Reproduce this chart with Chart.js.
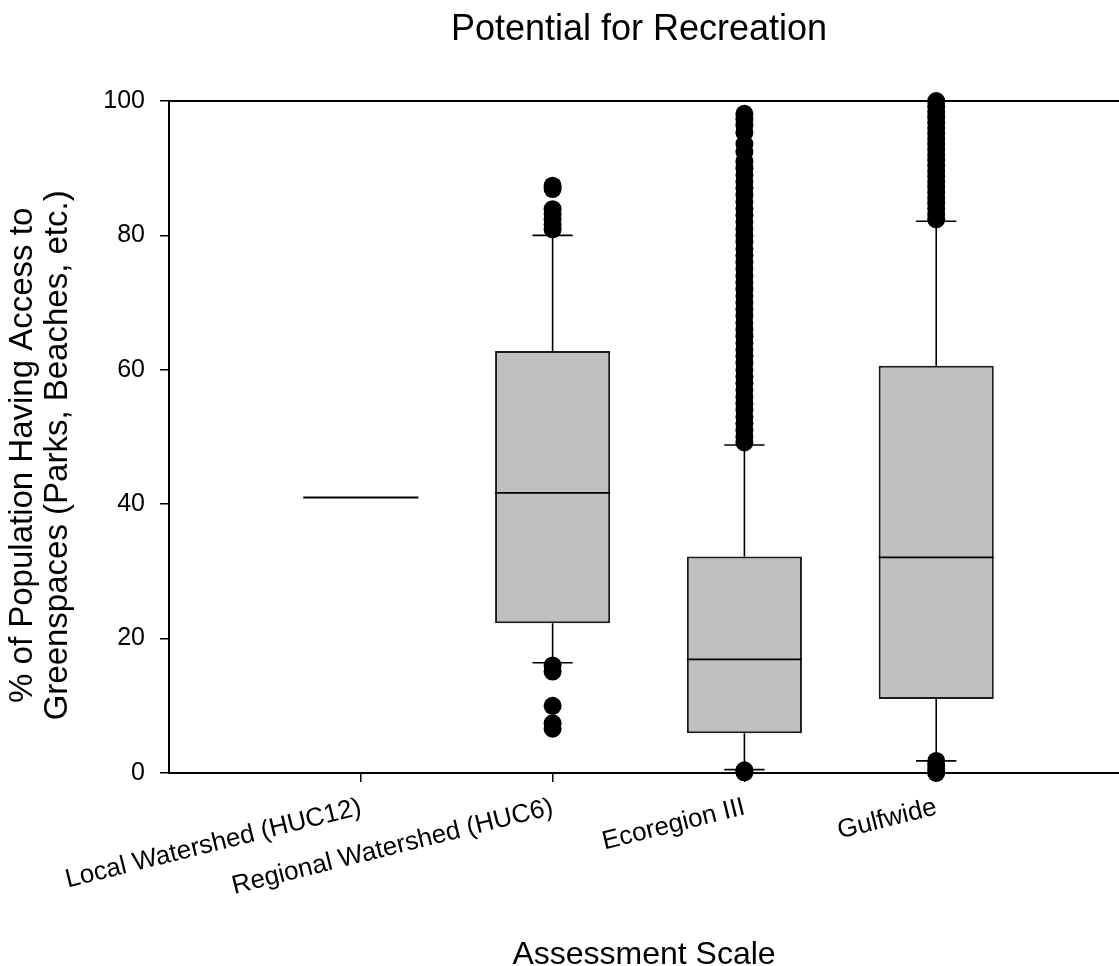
<!DOCTYPE html>
<html>
<head>
<meta charset="utf-8">
<style>
  html, body { margin: 0; padding: 0; background: #fff; overflow: hidden; }
  #wrap { width: 1119px; height: 966px; }
  canvas { display: block; }
</style>
<script src="https://cdn.jsdelivr.net/npm/chart.js@4.4.1/dist/chart.umd.min.js"></script>
</head>
<body>
<div id="wrap"><canvas id="c" width="1119" height="966"></canvas></div>
<script>
// ---- data ----
const categories = ['Local Watershed (HUC12)', 'Regional Watershed (HUC6)', 'Ecoregion III', 'Gulfwide'];
const q1Values      = [41.0, 22.3, 5.9, 11.0];
const medianValues  = [41.0, 41.7, 16.9, 32.1];
const q3Values      = [41.0, 62.8, 32.2, 60.6];
const whiskerLow    = [null, 16.4, 0.5, 1.8];
const whiskerHigh   = [null, 80.0, 48.8, 82.1];
const outliersLocal = [];
const outliersRegional = [87.4, 86.9, 83.9, 83.2, 82.4, 81.6, 80.9, 16.0, 15.1, 10.0, 7.4, 6.6];
const outliersEcoregion = [98.1, 97.3, 96.4, 95.3, 93.6, 92.4, 91.0, 90.0, 89.0, 88.0, 87.0, 86.0, 85.0,
  84.0, 83.0, 82.0, 81.0, 80.0, 79.0, 78.0, 77.0, 76.0, 75.0, 74.0, 73.0, 72.0, 71.0, 70.0, 69.0, 68.0,
  67.0, 66.0, 65.0, 64.0, 63.0, 62.0, 61.0, 60.0, 59.0, 58.0, 57.0, 56.0, 55.0, 54.0, 53.0, 52.0, 51.0,
  50.0, 49.2, 0.4, 0.1];
const outliersGulfwide = [100.0, 99.2, 98.4, 97.6, 96.8, 96.0, 95.2, 94.4, 93.6, 92.8, 92.0, 91.2, 90.4,
  89.6, 88.8, 88.0, 87.2, 86.4, 85.6, 84.8, 84.0, 83.2, 82.4, 1.8, 1.2, 0.6, 0.0];
const outlierLists = [outliersLocal, outliersRegional, outliersEcoregion, outliersGulfwide];
const yTicks = [0, 20, 40, 60, 80, 100];

const FONT = "'Liberation Sans', Arial, sans-serif";
Chart.defaults.color = '#000';
Chart.defaults.font.family = FONT;

const positions = categories.map((c, i) => i + 1);
const xMax = 4.953;

const boxData = categories.map((c, i) => ({ x: positions[i], y: [q1Values[i], q3Values[i]] }));
const outlierData = [];
outlierLists.forEach((list, i) => list.forEach(v => outlierData.push({ x: positions[i], y: v })));

const whiskerPlugin = {
  id: 'whiskers',
  afterDatasetDraw(chart, args) {
    if (args.meta.type !== 'bar') return;
    const ctx = chart.ctx;
    const xs = chart.scales.x, ys = chart.scales.y;
    ctx.save();
    ctx.strokeStyle = '#000';
    ctx.lineCap = 'butt';
    args.meta.data.forEach((bar, i) => {
      const cx = xs.getPixelForValue(positions[i]);
      const half = bar.width / 2;
      const capHalf = bar.width * 0.175;
      ctx.lineWidth = 1.6;
      [[q3Values[i], whiskerHigh[i]], [q1Values[i], whiskerLow[i]]].forEach(([from, to]) => {
        if (to === null || to === undefined) return;
        const y0 = ys.getPixelForValue(from), y1 = ys.getPixelForValue(to);
        ctx.beginPath();
        ctx.moveTo(cx, y0); ctx.lineTo(cx, y1);
        ctx.moveTo(cx - capHalf, y1); ctx.lineTo(cx + capHalf, y1);
        ctx.stroke();
      });
      ctx.lineWidth = 1.8;
      const ym = ys.getPixelForValue(medianValues[i]);
      ctx.beginPath();
      ctx.moveTo(cx - half, ym); ctx.lineTo(cx + half, ym);
      ctx.stroke();
    });
    ctx.restore();
  }
};

const SP = '\u0020\u0020\u0020\u0020';

new Chart(document.getElementById('c'), {
  data: {
    datasets: [
      {
        type: 'scatter',
        label: 'Outliers',
        data: outlierData,
        pointRadius: 9,
        pointHoverRadius: 9,
        pointBackgroundColor: '#000',
        pointBorderWidth: 0,
        clip: false
      },
      {
        type: 'bar',
        label: 'Boxes',
        data: boxData,
        backgroundColor: '#c0c0c0',
        borderColor: '#1a1a1a',
        borderWidth: 2,
        borderSkipped: false,
        barPercentage: 0.6,
        categoryPercentage: 1.0
      }
    ]
  },
  options: {
    responsive: false,
    animation: false,
    layout: { padding: 0, autoPadding: false },
    plugins: {
      legend: { display: false },
      tooltip: { enabled: false },
      title: {
        display: true,
        text: 'Potential for Recreation\u0020',
        fullSize: false,
        font: { size: 36, weight: 'normal', family: FONT, lineHeight: 1.2 },
        color: '#000',
        padding: { top: 8, bottom: 49.8 }
      }
    },
    scales: {
      x: {
        type: 'linear',
        position: 'bottom',
        min: 0,
        max: xMax,
        offset: false,
        afterBuildTicks(scale) { scale.ticks = positions.map(v => ({ value: v })); },
        afterFit(scale) { scale.height = 193; scale.paddingLeft = 0; scale.paddingRight = 0; },
        ticks: {
          autoSkip: false,
          minRotation: 14,
          maxRotation: 14,
          padding: 10,
          font: { size: 26, family: FONT },
          color: '#000',
          callback: (value, index) => categories[index]
        },
        grid: { display: true, offset: false, drawOnChartArea: false, drawTicks: true, tickLength: 9, color: '#000', lineWidth: 1.5 },
        border: { display: true, color: '#000', width: 2 },
        title: {
          display: true,
          text: 'Assessment Scale',
          font: { size: 32, family: FONT, lineHeight: 1.0 },
          color: '#000',
          padding: { top: 0, bottom: -5 }
        }
      },
      x2: {
        type: 'linear',
        position: 'top',
        min: 0,
        max: xMax,
        offset: false,
        afterFit(scale) { scale.height = 0; scale.paddingLeft = 0; scale.paddingRight = 0; },
        ticks: { display: false },
        grid: { display: false, drawTicks: false, offset: false },
        border: { display: true, color: '#000', width: 2 }
      },
      y: {
        type: 'linear',
        position: 'left',
        min: 0,
        max: 100,
        afterBuildTicks(scale) { scale.ticks = yTicks.map(v => ({ value: v })); },
        afterFit(scale) { scale.width = 169; },
        ticks: { padding: 15, font: { size: 25, family: FONT }, color: '#000' },
        grid: { display: true, drawOnChartArea: false, drawTicks: true, tickLength: 9, color: '#000', lineWidth: 1.5 },
        border: { display: true, color: '#000', width: 2 },
        title: {
          display: true,
          text: ['% of Population Having Access to' + SP, 'Greenspaces (Parks, Beaches, etc.)' + SP],
          font: { size: 33, family: FONT, lineHeight: 35 / 33 },
          color: '#000',
          padding: { top: 5.5, bottom: 0 }
        }
      }
    }
  },
  plugins: [whiskerPlugin]
});
</script>
</body>
</html>
